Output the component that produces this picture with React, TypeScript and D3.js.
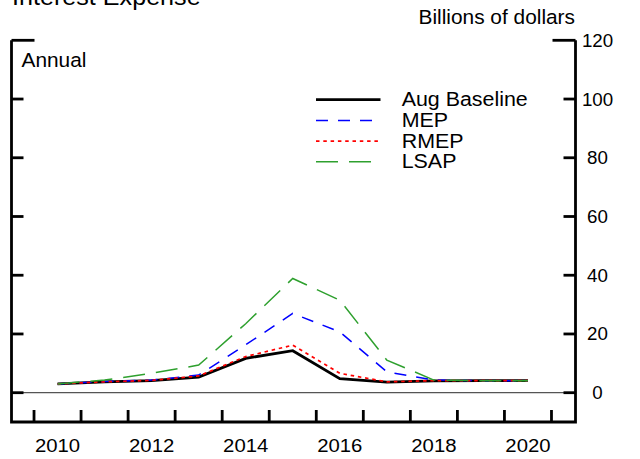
import React, { useEffect, useRef } from "react";
import * as d3 from "d3";

// annual data, plotted at mid-year
const years = [2010, 2011, 2012, 2013, 2014, 2015, 2016, 2017, 2018, 2019, 2020];
const augBaseline = [3.0, 3.7, 4.1, 5.3, 11.7, 14.3, 4.8, 3.6, 4.0, 4.1, 4.1];
const mep = [3.0, 3.8, 4.3, 6.0, 16.3, 27.0, 20.7, 7.1, 4.3, 4.1, 4.1];
const rmep = [3.0, 3.7, 4.2, 5.7, 12.3, 16.2, 6.6, 3.7, 4.1, 4.1, 4.1];
const lsap = [3.0, 4.3, 6.6, 9.4, 23.5, 38.9, 31.5, 11.1, 4.3, 4.1, 4.1];

const seriesNames = ["Aug Baseline", "MEP", "RMEP", "LSAP"];
const seriesValues = [augBaseline, mep, rmep, lsap];
const yTicks = [0, 20, 40, 60, 80, 100, 120];
const xLabelYears = [2010, 2012, 2014, 2016, 2018, 2020];

const styles = [
  { color: "#000000", width: 2.8, dash: null },
  { color: "#0000ff", width: 1.5, dash: "12,10" },
  { color: "#ff0000", width: 1.7, dash: "3.5,3.8" },
  { color: "#2ea02e", width: 1.5, dash: "22,11" },
];

const FONT = "'Liberation Sans', Arial, sans-serif";
const SX = 1.07; // text in the original is a bit wide

function App() {
  const ref = useRef<SVGSVGElement>(null);

  useEffect(() => {
    const svg = d3.select(ref.current);
    svg.selectAll("*").remove();

    const left = 11.5;
    const right = 575.5;
    const bottom = 422;

    const x = d3.scaleLinear().domain([2009.5, 2021.5]).range([10.5, 575]);
    const y = d3.scaleLinear().domain([0, 120]).range([392.7, 40.3]);

    const addText = (
      tx: number,
      ty: number,
      str: string,
      size: number,
      anchor = "start"
    ) =>
      svg
        .append("text")
        .attr("transform", `translate(${tx},${ty}) scale(${SX},1)`)
        .attr("font-family", FONT)
        .attr("font-size", size)
        .attr("text-anchor", anchor)
        .attr("fill", "#000")
        .text(str);

    // title (cut off at top, as in the source)
    addText(12, 5, "Interest Expense", 23.5);
    addText(575, 23.5, "Billions of dollars", 19.5, "end");
    addText(21.5, 66.7, "Annual", 19.5);

    // zero line
    svg
      .append("line")
      .attr("x1", left)
      .attr("x2", right)
      .attr("y1", y(0))
      .attr("y2", y(0))
      .attr("stroke", "#555")
      .attr("stroke-width", 1.3);

    // series
    const line = d3
      .line<number>()
      .x((_, i) => x(years[i] + 0.5))
      .y((d) => y(d));

    seriesValues.forEach((vals, i) => {
      const s = styles[i];
      const p = svg
        .append("path")
        .attr("d", line(vals))
        .attr("fill", "none")
        .attr("stroke", s.color)
        .attr("stroke-width", s.width)
        .attr("stroke-linejoin", "miter");
      if (s.dash) p.attr("stroke-dasharray", s.dash);
    });

    // frame
    const frame = svg.append("g").attr("stroke", "#000").attr("stroke-width", 2.8).attr("fill", "none");
    frame
      .append("path")
      .attr("d", `M${left},${y(120)}V${bottom}H${right}V${y(120)}`);

    // y ticks on both sides
    yTicks.forEach((t) => {
      const len = t === 120 ? 23 : 12;
      frame.append("line").attr("x1", left).attr("x2", left + len).attr("y1", y(t)).attr("y2", y(t));
      frame.append("line").attr("x1", right).attr("x2", right - len).attr("y1", y(t)).attr("y2", y(t));
      addText(597.5, y(t) + 6.5, String(t), 17.5, "middle");
    });

    // x ticks at year boundaries
    d3.range(2010, 2022).forEach((yr) => {
      frame.append("line").attr("x1", x(yr)).attr("x2", x(yr)).attr("y1", bottom).attr("y2", bottom - 12);
    });
    xLabelYears.forEach((yr) => {
      addText(x(yr + 0.5), 451.5, String(yr), 19, "middle");
    });

    // legend
    seriesNames.forEach((name, i) => {
      const ly = 99.7 + i * 20.7;
      const s = styles[i];
      const l = svg
        .append("line")
        .attr("x1", 316)
        .attr("x2", 380.5)
        .attr("y1", ly)
        .attr("y2", ly)
        .attr("stroke", s.color)
        .attr("stroke-width", s.width);
      if (s.dash) l.attr("stroke-dasharray", s.dash);
      addText(401.7, ly + 6.5, name, 20);
    });
  }, []);

  return (
    <svg
      ref={ref}
      width={640}
      height={459}
      style={{ position: "absolute", left: 0, top: 0, background: "#fff" }}
    ></svg>
  );
}

export default App;
